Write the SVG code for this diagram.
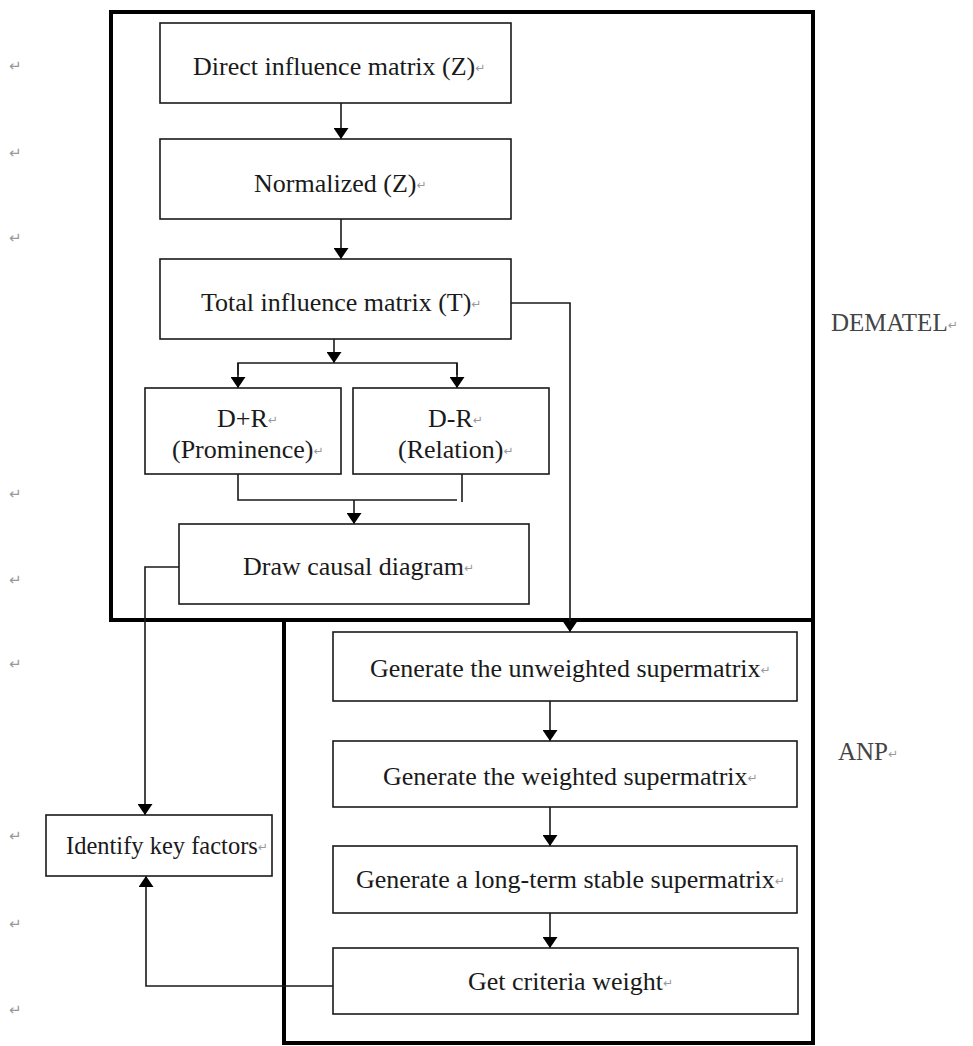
<svg xmlns="http://www.w3.org/2000/svg" width="973" height="1046" viewBox="0 0 973 1046">
<style>
  .box{fill:#fff;stroke:#1a1a1a;stroke-width:1.6}
  .frame{fill:none;stroke:#000;stroke-width:4}
  .t{font-family:"Liberation Serif","Times New Roman",serif;font-size:26px;fill:#1a1a1a}
  .lab{font-family:"Liberation Serif","Times New Roman",serif;font-size:25px;fill:#444}
  .m{font-family:"DejaVu Sans",sans-serif;font-size:12px;fill:#999}
  .lm{font-family:"DejaVu Sans",sans-serif;font-size:15px;fill:#999}
  .c{fill:none;stroke:#1a1a1a;stroke-width:1.6}
</style>
<defs>
  <marker id="ah" markerWidth="11" markerHeight="15" refX="11" refY="7.5" orient="auto" markerUnits="userSpaceOnUse" viewBox="0 0 11 15">
    <path d="M0,0 L11,7.5 L0,15 Z" fill="#000"/>
  </marker>
</defs>
<rect width="973" height="1046" fill="#fff"/>

<g id="margin-marks">
  <text class="lm" x="9" y="71">↵</text>
  <text class="lm" x="9" y="158">↵</text>
  <text class="lm" x="9" y="243">↵</text>
  <text class="lm" x="9" y="499">↵</text>
  <text class="lm" x="9" y="585">↵</text>
  <text class="lm" x="9" y="669">↵</text>
  <text class="lm" x="9" y="841">↵</text>
  <text class="lm" x="9" y="929">↵</text>
  <text class="lm" x="9" y="1015">↵</text>
</g>

<g id="frames">
  <rect class="frame" x="111" y="12" width="702" height="608"/>
  <rect class="frame" x="284" y="620" width="529" height="423"/>
</g>

<g id="labels">
  <text class="lab" x="831" y="331">DEMATEL<tspan class="m" dy="-2">↵</tspan></text>
  <text class="lab" x="838" y="760">ANP<tspan class="m" dy="-2">↵</tspan></text>
</g>

<g id="connectors">
  <line class="c" x1="341" y1="103" x2="341" y2="139" marker-end="url(#ah)"/>
  <line class="c" x1="341" y1="219" x2="341" y2="259" marker-end="url(#ah)"/>
  <line class="c" x1="334" y1="339" x2="334" y2="363" marker-end="url(#ah)"/>
  <polyline class="c" points="238,375 238,363 457,363 457,375"/>
  <line class="c" x1="238" y1="363" x2="238" y2="388" marker-end="url(#ah)"/>
  <line class="c" x1="457" y1="363" x2="457" y2="388" marker-end="url(#ah)"/>
  <polyline class="c" points="238,474 238,500 457,500"/>
  <line class="c" x1="462" y1="474" x2="462" y2="502"/>
  <line class="c" x1="354" y1="500" x2="354" y2="524" marker-end="url(#ah)"/>
  <polyline class="c" points="179,567 145,567 145,815" marker-end="url(#ah)"/>
  <polyline class="c" points="511,303 570,303 570,632" marker-end="url(#ah)"/>
  <line class="c" x1="550" y1="701" x2="550" y2="741" marker-end="url(#ah)"/>
  <line class="c" x1="550" y1="807" x2="550" y2="846" marker-end="url(#ah)"/>
  <line class="c" x1="550" y1="913" x2="550" y2="948" marker-end="url(#ah)"/>
  <polyline class="c" points="333,986 146,986 146,876" marker-end="url(#ah)"/>
</g>

<g id="direct">
  <rect class="box" x="160" y="23" width="351" height="80"/>
  <text class="t" x="193" y="75">Direct influence matrix (Z)<tspan class="m" dy="-3">↵</tspan></text>
</g>
<g id="normalized">
  <rect class="box" x="160" y="139" width="351" height="80"/>
  <text class="t" x="254" y="192">Normalized (Z)<tspan class="m" dy="-3">↵</tspan></text>
</g>
<g id="total">
  <rect class="box" x="160" y="259" width="351" height="80"/>
  <text class="t" x="201" y="311">Total influence matrix (T)<tspan class="m" dy="-3">↵</tspan></text>
</g>
<g id="dplusr">
  <rect class="box" x="145" y="388" width="196" height="86"/>
  <text class="t" x="217" y="427">D+R<tspan class="m" dy="-3">↵</tspan></text>
  <text class="t" x="172" y="458">(Prominence)<tspan class="m" dy="-3">↵</tspan></text>
</g>
<g id="dminusr">
  <rect class="box" x="353" y="388" width="196" height="86"/>
  <text class="t" x="428" y="427">D-R<tspan class="m" dy="-3">↵</tspan></text>
  <text class="t" x="398" y="458">(Relation)<tspan class="m" dy="-3">↵</tspan></text>
</g>
<g id="causal">
  <rect class="box" x="179" y="524" width="350" height="80"/>
  <text class="t" x="243" y="575">Draw causal diagram<tspan class="m" dy="-3">↵</tspan></text>
</g>
<g id="unweighted">
  <rect class="box" x="333" y="632" width="464" height="69"/>
  <text class="t" x="370" y="677">Generate the unweighted supermatrix<tspan class="m" dy="-3">↵</tspan></text>
</g>
<g id="weighted">
  <rect class="box" x="333" y="741" width="464" height="66"/>
  <text class="t" x="383" y="785">Generate the weighted supermatrix<tspan class="m" dy="-3">↵</tspan></text>
</g>
<g id="longterm">
  <rect class="box" x="333" y="846" width="464" height="67"/>
  <text class="t" x="356" y="888">Generate a long-term stable supermatrix<tspan class="m" dy="-3">↵</tspan></text>
</g>
<g id="criteria">
  <rect class="box" x="333" y="948" width="465" height="66"/>
  <text class="t" x="468" y="990">Get criteria weight<tspan class="m" dy="-3">↵</tspan></text>
</g>
<g id="identify">
  <rect class="box" x="46" y="815" width="226" height="61"/>
  <text class="t" x="66" y="854" style="font-size:24.5px">Identify key factors<tspan class="m" dy="-3">↵</tspan></text>
</g>
</svg>
